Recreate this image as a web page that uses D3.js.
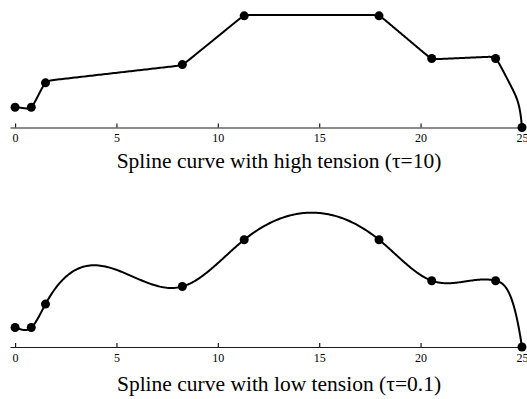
<!DOCTYPE html>
<html>
<head>
<meta charset="utf-8">
<script src="https://cdnjs.cloudflare.com/ajax/libs/d3/7.8.5/d3.min.js"></script>
<style>
  body { margin: 0; background: #fff; }
  svg { display: block; }
</style>
</head>
<body>
<div class="splines"></div>
<script>
const width = 527;
const height = 399;

// knots (same knots in both panels)
const knotX = [0, 0.8, 1.5, 8.25, 11.3, 17.95, 20.55, 23.7, 25];
const knotY = [1.0, 1.0, 2.2, 3.1, 5.5, 5.5, 3.4, 3.4, 0];
const tickVals = [0, 5, 10, 15, 20, 25];
const tensions = [10, 0.1];
// slopes of the curves at x=0 and x=25
const endSlopes = [[0, -12], [-0.3, -7]];
const captions = [
  "Spline curve with high tension (\u03c4=10)",
  "Spline curve with low tension (\u03c4=0.1)"
];

// layout of the two panels
const panels = [
  { axisY: 127.5, unit: 20.3, capY: 168 },
  { axisY: 347, unit: 19.5, capY: 391 }
];

const svg = d3
  .select(".splines")
  .append("svg")
  .attr("width", width)
  .attr("height", height);

//spline under tension: f'''' - s^2 f'' = 0 between knots, end slopes given
function drawTension(ctx, p, s, s0, sn) {
  const n = p.length - 1;
  const x = p.map(d => d[0]);
  const y = p.map(d => d[1]);
  const h = [], dl = [], a = [], b = [];
  for (let i = 0; i < n; i++) {
    h[i] = x[i + 1] - x[i];
    dl[i] = (y[i + 1] - y[i]) / h[i];
    const sh = Math.sinh(s * h[i]);
    const ch = Math.cosh(s * h[i]);
    a[i] = 1 / (s * s * h[i]) - 1 / (s * sh);
    b[i] = ch / (s * sh) - 1 / (s * s * h[i]);
  }
  //tridiagonal system for the second derivatives
  const lo = [0], di = [b[0]], up = [a[0]], r = [dl[0] - s0];
  for (let i = 1; i < n; i++) {
    lo[i] = a[i - 1];
    di[i] = b[i - 1] + b[i];
    up[i] = a[i];
    r[i] = dl[i] - dl[i - 1];
  }
  lo[n] = a[n - 1]; di[n] = b[n - 1]; up[n] = 0; r[n] = sn - dl[n - 1];
  for (let i = 1; i <= n; i++) {
    const m = lo[i] / di[i - 1];
    di[i] -= m * up[i - 1];
    r[i] -= m * r[i - 1];
  }
  const M = [];
  M[n] = r[n] / di[n];
  for (let i = n - 1; i >= 0; i--) M[i] = (r[i] - up[i] * M[i + 1]) / di[i];

  ctx.moveTo(x[0], y[0]);
  const steps = 80;
  for (let i = 0; i < n; i++) {
    const s2 = s * s, shh = Math.sinh(s * h[i]);
    for (let k = 1; k <= steps; k++) {
      const t = x[i] + h[i] * k / steps;
      const f = (M[i] * Math.sinh(s * (x[i + 1] - t)) + M[i + 1] * Math.sinh(s * (t - x[i]))) / (s2 * shh)
        + (y[i] - M[i] / s2) * (x[i + 1] - t) / h[i]
        + (y[i + 1] - M[i + 1] / s2) * (t - x[i]) / h[i];
      ctx.lineTo(t, f);
    }
  }
}

// custom d3 curve factory
function curveTension(s, s0, sn) {
  return function(context) {
    let pts;
    return {
      areaStart() {},
      areaEnd() {},
      lineStart() { pts = []; },
      point(x, y) { pts.push([+x, +y]); },
      lineEnd() { drawTension(context, pts, s, s0, sn); }
    };
  };
}

const data = knotX.map((d, i) => ({ x: d, y: knotY[i] }));

const x_scale = d3.scaleLinear().domain([-0.25, 25.15]).range([10, 525]);
const pxPerUnit = x_scale(1) - x_scale(0);

panels.forEach((pn, k) => {
  const y_scale = d3
    .scaleLinear()
    .domain([0, 1])
    .range([pn.axisY, pn.axisY - pn.unit]);

  // slope in data units -> slope in pixels
  const pxSlope = v => (y_scale(v) - y_scale(0)) / pxPerUnit;

  const g = svg.append("g").attr("class", "panel");

  //x-axis
  const axis = g
    .append("g")
    .attr("class", "x-axis")
    .attr("transform", "translate(0," + pn.axisY + ")")
    .call(
      d3.axisBottom(x_scale)
        .tickValues(tickVals)
        .tickSize(-4)
        .tickSizeOuter(0)
        .tickPadding(6)
        .tickFormat(d3.format("d"))
    )
    .attr("font-family", "'Liberation Serif', 'Times New Roman', serif")
    .attr("font-size", 12);
  axis.selectAll("path, line").attr("stroke", "#1a1a1a").attr("stroke-width", 1.2);
  axis.selectAll("text").attr("fill", "#000");

  //spline, tension given per data unit of x
  const line = d3
    .line()
    .x(d => x_scale(d.x))
    .y(d => y_scale(d.y))
    .curve(curveTension(
      tensions[k] / pxPerUnit,
      pxSlope(endSlopes[k][0]),
      pxSlope(endSlopes[k][1])
    ));

  g.append("path")
    .datum(data)
    .attr("d", line)
    .attr("fill", "none")
    .attr("stroke", "#000")
    .attr("stroke-width", 2);

  //knots
  g.selectAll(".dot")
    .data(data)
    .enter()
    .append("circle")
    .attr("class", "dot")
    .attr("cx", d => x_scale(d.x))
    .attr("cy", d => y_scale(d.y))
    .attr("r", 4.5)
    .style("fill", "#000");

  //caption
  g.append("text")
    .attr("x", 279)
    .attr("y", pn.capY)
    .attr("text-anchor", "middle")
    .style("font-family", "'Liberation Serif', 'Times New Roman', serif")
    .style("font-size", "21.5px")
    .text(captions[k]);
});
</script>
</body>
</html>
